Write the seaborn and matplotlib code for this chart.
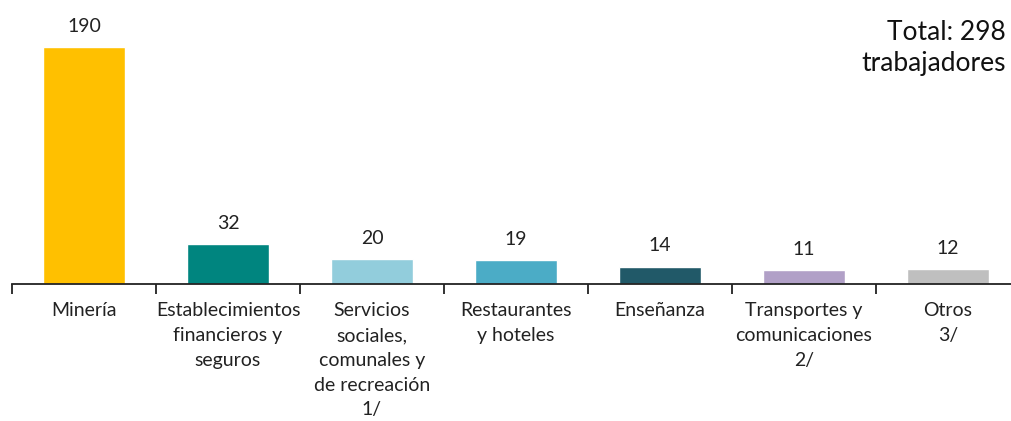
import matplotlib.pyplot as plt
import seaborn as sns
import pandas as pd

categorias = ["Minería", "Establecimientos\nfinancieros y\nseguros", "Servicios\nsociales,\ncomunales y\nde recreación\n1/",
              "Restaurantes\ny hoteles", "Enseñanza", "Transportes y\ncomunicaciones\n2/", "Otros\n3/"]
trabajadores = [190, 32, 20, 19, 14, 11, 12]
colores = ["#FFC000", "#00857F", "#92CDDC", "#4BACC6", "#215968", "#B1A0C7", "#BFBFBF"]

df = pd.DataFrame({"cat": categorias, "val": trabajadores})

sns.set_style("white")
plt.rcParams['font.family'] = ['Lato', 'DejaVu Sans']

fig = plt.figure(figsize=(10.11, 4.21), dpi=100)
ax = fig.add_axes([12 / 1011, (421 - 284) / 421, 999 / 1011, 284 / 421])

sns.barplot(data=df, x="cat", y="val", hue="cat", palette=colores, legend=False,
            width=0.57, saturation=1, ax=ax)

for i, v in enumerate(trabajadores):
    ax.annotate(str(v), (i, v), xytext=(0, 9), textcoords="offset points",
                ha="center", va="bottom", fontsize=14, color="#222222")

for s in ["top", "right", "left"]:
    ax.spines[s].set_visible(False)
ax.spines["bottom"].set_color("#222222")
ax.spines["bottom"].set_linewidth(1.3)
ax.set_yticks([])
ax.set_xticks(range(len(categorias)))
ax.set_xticklabels(categorias, fontsize=14, linespacing=1.56, color="#222222")
ax.tick_params(axis="x", which="major", length=0, pad=13)
ax.set_xticks([i - 0.5 for i in range(len(categorias) + 1)], minor=True)
ax.tick_params(axis="x", which="minor", length=7, width=1.3, color="#222222", direction="out")
ax.xaxis.set_ticks_position("bottom")
ax.set_xlabel("")
ax.set_ylabel("")
# limits last, set_xticks would widen them
ax.set_xlim(-0.5, -0.5 + 999 / 144)
ax.set_ylim(0, 284 / 1.247)

fig.text(1006 / 1011, 1 - 48 / 421, "Total: 298\ntrabajadores", ha="right", va="center",
         fontsize=19, linespacing=1.3, color="#111111")
fig.text(483 / 1011, 1 + 4 / 421, "(Número)", ha="center", va="baseline", fontsize=16, color="#222222")

fig.savefig("out.png", dpi=100)
